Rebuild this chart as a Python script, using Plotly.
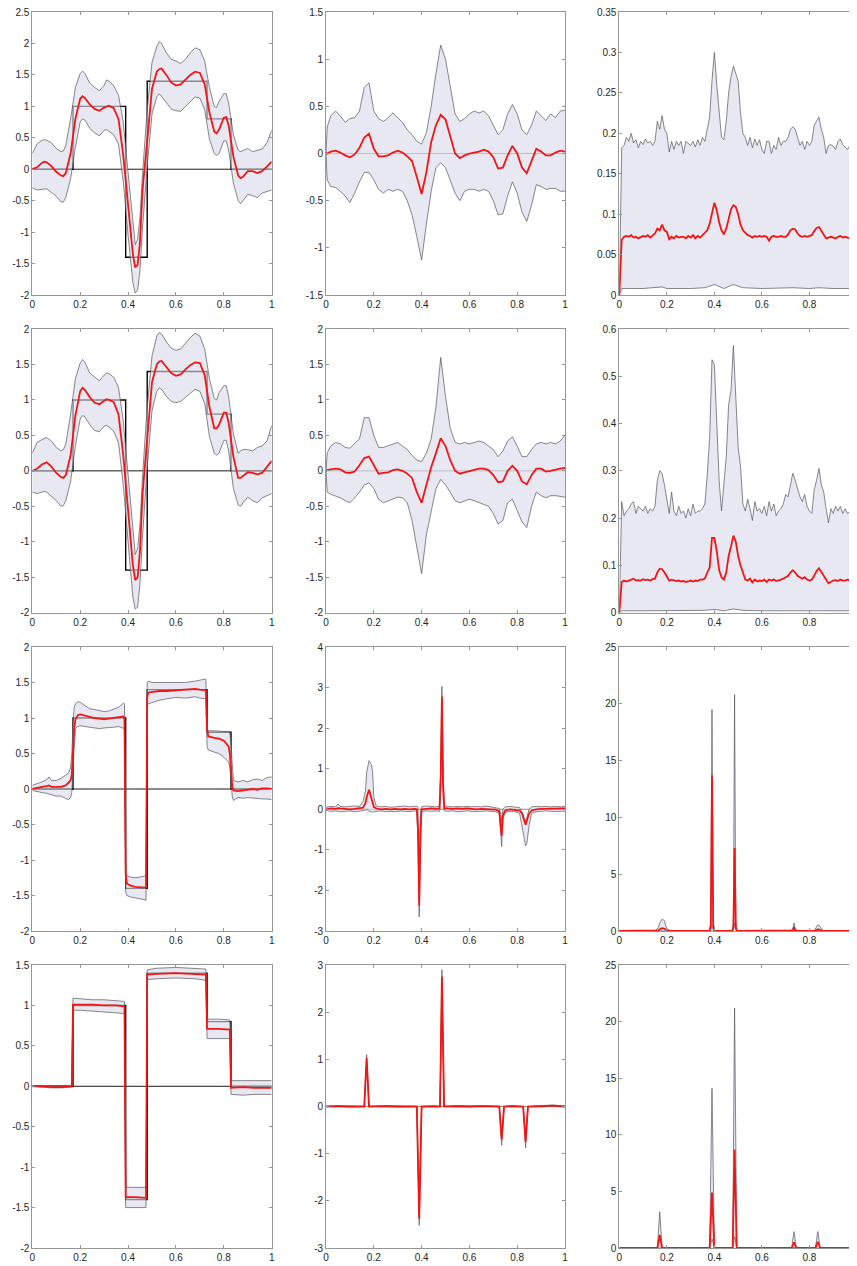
import plotly.graph_objects as go

# ---------------- common data ----------------
step_x = [0, 0.17, 0.17, 0.39, 0.39, 0.48, 0.48, 0.73, 0.73, 0.83, 0.83, 1.0]
step_y = [0, 0, 1, 1, -1.4, -1.4, 1.4, 1.4, 0.8, 0.8, 0, 0]
zero_x = [0, 1]
zero_y = [0, 0]

# ---------- column 1, rows 1-2 (smooth estimate) ----------
x_c1 = [0, 0.02, 0.04, 0.05, 0.06, 0.08, 0.10, 0.12, 0.13, 0.14,
        0.16, 0.18, 0.20, 0.21, 0.22, 0.24, 0.26, 0.28, 0.30, 0.31,
        0.32, 0.34, 0.36, 0.38, 0.40, 0.42, 0.43, 0.44, 0.45, 0.46,
        0.48, 0.50, 0.52, 0.53, 0.54, 0.56, 0.58, 0.60, 0.62, 0.64,
        0.66, 0.68, 0.70, 0.72, 0.74, 0.76, 0.77, 0.78, 0.80, 0.81,
        0.82, 0.84, 0.86, 0.87, 0.88, 0.90, 0.92, 0.94, 0.96, 0.98, 1.00]
r1c1_mean = [0.0, 0.03, 0.1, 0.12, 0.11, 0.05, -0.04, -0.1, -0.11, -0.06,
             0.25, 0.8, 1.12, 1.16, 1.13, 1.03, 0.96, 0.93, 0.98, 1.0,
             1.01, 0.97, 0.8, 0.22, -0.55, -1.35, -1.56, -1.52, -1.15, -0.35,
             0.45, 1.28, 1.55, 1.59, 1.6, 1.5, 1.38, 1.33, 1.35, 1.43,
             1.5, 1.55, 1.53, 1.35, 0.9, 0.6, 0.57, 0.63, 0.82, 0.83,
             0.7, 0.2, -0.1, -0.14, -0.12, -0.03, -0.03, -0.06, -0.03, 0.04, 0.12]
r1c1_hi = [0.25, 0.4, 0.46, 0.47, 0.46, 0.42, 0.33, 0.28, 0.29, 0.38,
           0.8, 1.3, 1.52, 1.56, 1.52, 1.37, 1.3, 1.25, 1.33, 1.42,
           1.4, 1.33, 1.18, 0.75, -0.05, -0.9, -1.2, -1.12, -0.75, -0.1,
           0.95, 1.7, 1.95, 2.03, 2.0, 1.85, 1.75, 1.72, 1.68, 1.75,
           1.85, 1.93, 1.9, 1.72, 1.3, 1.0, 0.98, 1.08, 1.2, 1.2,
           1.05, 0.55, 0.3, 0.28, 0.3, 0.33, 0.28, 0.3, 0.32, 0.42, 0.62]
r1c1_lo = [-0.3, -0.33, -0.32, -0.31, -0.31, -0.37, -0.43, -0.52, -0.52, -0.45,
           -0.15, 0.35, 0.75, 0.8, 0.78, 0.65, 0.58, 0.53, 0.62, 0.63,
           0.6, 0.55, 0.4, -0.2, -1.05, -1.8, -1.97, -1.92, -1.6, -0.95,
           0.05, 0.88, 1.15, 1.2, 1.16, 1.05, 0.96, 0.93, 0.92, 1.0,
           1.08, 1.15, 1.13, 0.95, 0.48, 0.25, 0.22, 0.25, 0.45, 0.45,
           0.3, -0.22, -0.5, -0.55, -0.5, -0.4, -0.42, -0.45, -0.38, -0.35, -0.33]

r2c1_mean = [0.0, 0.03, 0.09, 0.11, 0.12, 0.06, -0.03, -0.09, -0.1, -0.06,
             0.22, 0.78, 1.12, 1.17, 1.14, 1.04, 0.96, 0.94, 0.99, 1.01,
             1.0, 0.97, 0.8, 0.22, -0.55, -1.33, -1.54, -1.5, -1.12, -0.35,
             0.45, 1.25, 1.5, 1.54, 1.55, 1.47, 1.38, 1.34, 1.36, 1.43,
             1.49, 1.53, 1.52, 1.35, 0.9, 0.6, 0.6, 0.65, 0.82, 0.82,
             0.68, 0.2, -0.1, -0.1, -0.07, -0.02, -0.03, -0.05, -0.03, 0.05, 0.14]
r2c1_hi = [0.25, 0.4, 0.44, 0.46, 0.47, 0.42, 0.33, 0.28, 0.3, 0.38,
           0.8, 1.3, 1.52, 1.57, 1.53, 1.38, 1.32, 1.27, 1.35, 1.38,
           1.37, 1.32, 1.18, 0.7, -0.05, -0.88, -1.18, -1.1, -0.75, -0.1,
           0.9, 1.62, 1.9, 1.95, 1.93, 1.82, 1.73, 1.7, 1.72, 1.8,
           1.88, 1.94, 1.9, 1.72, 1.3, 1.02, 1.0, 1.1, 1.2, 1.2,
           1.05, 0.52, 0.25, 0.28, 0.3, 0.3, 0.28, 0.33, 0.35, 0.42, 0.64]
r2c1_lo = [-0.3, -0.32, -0.3, -0.29, -0.3, -0.36, -0.42, -0.5, -0.49, -0.42,
           -0.15, 0.35, 0.73, 0.78, 0.76, 0.65, 0.57, 0.55, 0.63, 0.64,
           0.62, 0.56, 0.4, -0.2, -1.05, -1.78, -1.95, -1.92, -1.58, -0.95,
           0.05, 0.85, 1.12, 1.17, 1.15, 1.05, 0.98, 0.96, 0.98, 1.04,
           1.1, 1.15, 1.12, 0.95, 0.48, 0.25, 0.22, 0.25, 0.43, 0.43,
           0.28, -0.25, -0.48, -0.5, -0.45, -0.37, -0.42, -0.45, -0.38, -0.35, -0.32]

# ---------- column 2, rows 1-2 ----------
x_c2 = [0, 0.005, 0.02, 0.04, 0.06, 0.08, 0.10, 0.12, 0.14, 0.16,
        0.18, 0.20, 0.22, 0.24, 0.26, 0.28, 0.30, 0.32, 0.34, 0.36,
        0.38, 0.40, 0.42, 0.44, 0.46, 0.48, 0.50, 0.52, 0.54, 0.56,
        0.58, 0.60, 0.62, 0.64, 0.66, 0.68, 0.70, 0.72, 0.74, 0.76,
        0.78, 0.80, 0.82, 0.84, 0.86, 0.88, 0.90, 0.92, 0.94, 0.96, 0.98, 1.00]
r1c2_mean = [0, 0.0, 0.02, 0.03, 0.01, -0.02, -0.04, -0.01, 0.06, 0.17,
             0.21, 0.05, -0.03, -0.03, -0.02, 0.01, 0.03, 0.01, -0.03, -0.08,
             -0.25, -0.43, -0.2, 0.12, 0.3, 0.41, 0.36, 0.18, 0.0, -0.05,
             -0.02, 0.0, 0.01, 0.02, 0.04, 0.02, -0.04, -0.16, -0.15, -0.02,
             0.08, 0.0, -0.15, -0.21, -0.08, 0.05, 0.02, -0.02, -0.02, 0.01, 0.03, 0.02]
r1c2_hi = [0, 0.28, 0.4, 0.45, 0.4, 0.33, 0.37, 0.38, 0.45, 0.7,
           0.75, 0.45, 0.37, 0.34, 0.38, 0.43, 0.38, 0.33, 0.25, 0.2,
           0.13, 0.1, 0.22, 0.5, 0.85, 1.15, 1.0, 0.7, 0.42, 0.34,
           0.37, 0.42, 0.45, 0.43, 0.45, 0.4, 0.3, 0.2, 0.25, 0.42,
           0.52, 0.42, 0.25, 0.2, 0.3, 0.45, 0.4, 0.35, 0.42, 0.38, 0.45, 0.46]
r1c2_lo = [0, -0.28, -0.35, -0.36, -0.4, -0.45, -0.52, -0.42, -0.3, -0.2,
           -0.2, -0.28, -0.38, -0.42, -0.38, -0.4, -0.38, -0.4, -0.5, -0.65,
           -0.88, -1.13, -0.75, -0.4, -0.15, -0.1, -0.15, -0.28, -0.42, -0.5,
           -0.4, -0.38, -0.38, -0.4, -0.38, -0.4, -0.5, -0.65, -0.64, -0.45,
           -0.3, -0.42, -0.62, -0.72, -0.55, -0.33, -0.35, -0.38, -0.37, -0.37, -0.4, -0.4]

r2c2_mean = [0, 0.01, 0.02, 0.03, 0.02, -0.02, -0.03, -0.01, 0.08, 0.18,
             0.2, 0.08, -0.04, -0.03, -0.02, 0.01, 0.02, 0.0, -0.04, -0.1,
             -0.3, -0.45, -0.2, 0.05, 0.25, 0.46, 0.35, 0.15, 0.0, -0.04,
             -0.02, 0.0, 0.01, 0.03, 0.03, 0.01, -0.06, -0.16, -0.15, 0.0,
             0.07, 0.0, -0.15, -0.19, -0.06, 0.03, 0.03, -0.01, 0.0, 0.02, 0.03, 0.04]
r2c2_hi = [0, 0.25, 0.35, 0.4, 0.38, 0.33, 0.32, 0.38, 0.45, 0.75,
           0.75, 0.5, 0.33, 0.33, 0.35, 0.38, 0.4, 0.35, 0.3, 0.22,
           0.15, 0.13, 0.25, 0.45, 0.9, 1.6, 1.05, 0.6, 0.4, 0.38,
           0.4, 0.38, 0.4, 0.42, 0.4, 0.35, 0.3, 0.2, 0.28, 0.42,
           0.48, 0.35, 0.2, 0.2, 0.3, 0.38, 0.4, 0.38, 0.4, 0.38, 0.42, 0.5]
r2c2_lo = [0, -0.3, -0.33, -0.35, -0.38, -0.42, -0.45, -0.38, -0.3, -0.2,
           -0.17, -0.25, -0.4, -0.45, -0.42, -0.4, -0.37, -0.38, -0.45, -0.7,
           -1.1, -1.45, -0.9, -0.55, -0.25, -0.12, -0.2, -0.3, -0.42, -0.45,
           -0.43, -0.4, -0.42, -0.45, -0.48, -0.5, -0.6, -0.75, -0.7, -0.45,
           -0.4, -0.55, -0.72, -0.8, -0.5, -0.3, -0.35, -0.38, -0.35, -0.35, -0.36, -0.37]

# ---------- column 3, rows 1-2 ----------
x_c3 = [round(i * 0.01, 2) for i in range(101)]
r1c3_hi = [0.0,
           0.182, 0.185, 0.195, 0.19, 0.2, 0.188, 0.192, 0.182, 0.19, 0.186,
           0.193, 0.188, 0.19, 0.185, 0.19, 0.215, 0.205, 0.222, 0.205, 0.2,
           0.177, 0.19, 0.18, 0.19, 0.185, 0.19, 0.175, 0.19, 0.188, 0.185,
           0.19, 0.183, 0.192, 0.185, 0.195, 0.19, 0.205, 0.22, 0.265, 0.3,
           0.26, 0.23, 0.195, 0.192, 0.215, 0.25, 0.27, 0.283, 0.275, 0.265,
           0.225, 0.2, 0.195, 0.185, 0.195, 0.182, 0.193, 0.185, 0.192, 0.18,
           0.175, 0.19, 0.19, 0.175, 0.185, 0.18, 0.195, 0.185, 0.19, 0.19,
           0.195, 0.205, 0.208, 0.205, 0.195, 0.185, 0.19, 0.18, 0.19, 0.185,
           0.19, 0.21, 0.215, 0.22, 0.205, 0.195, 0.175, 0.185, 0.186, 0.184,
           0.18, 0.19, 0.193, 0.186, 0.183, 0.18, 0.185, 0.19, 0.185, 0.19]
r1c3_mean = [0.0,
             0.068, 0.072, 0.073, 0.072, 0.074, 0.071, 0.072, 0.07, 0.072, 0.073,
             0.072, 0.074, 0.071, 0.074, 0.076, 0.082, 0.08, 0.087, 0.08, 0.078,
             0.069, 0.072, 0.07, 0.073, 0.071, 0.072, 0.072, 0.07, 0.073, 0.071,
             0.074, 0.07, 0.073, 0.071, 0.074, 0.077, 0.08, 0.088, 0.103, 0.114,
             0.105, 0.09, 0.08, 0.075, 0.082, 0.095, 0.106, 0.111, 0.109, 0.1,
             0.087, 0.08, 0.077, 0.074, 0.073, 0.071, 0.073, 0.072, 0.073, 0.072,
             0.073, 0.072, 0.067, 0.072, 0.073, 0.072, 0.072, 0.073, 0.072, 0.072,
             0.075, 0.08, 0.082, 0.081, 0.076, 0.073, 0.072, 0.073, 0.072, 0.073,
             0.074, 0.079, 0.083, 0.084, 0.079, 0.075, 0.07, 0.071, 0.072, 0.071,
             0.07, 0.072, 0.073, 0.071, 0.072, 0.071, 0.07, 0.072, 0.07, 0.071]
r1c3_lo_x = [0, 0.01, 0.1, 0.17, 0.18, 0.2, 0.3, 0.36, 0.4, 0.44, 0.48, 0.52, 0.6, 0.73, 0.8, 0.84, 0.9, 1.0]
r1c3_lo = [0, 0.008, 0.008, 0.009, 0.01, 0.008, 0.008, 0.009, 0.013, 0.008, 0.013, 0.009, 0.008, 0.009, 0.008, 0.009, 0.008, 0.008]

r2c3_hi = [0.0,
           0.235, 0.205, 0.215, 0.22, 0.23, 0.235, 0.21, 0.225, 0.22, 0.215,
           0.225, 0.21, 0.22, 0.215, 0.225, 0.28, 0.3, 0.295, 0.27, 0.235,
           0.21, 0.255, 0.215, 0.205, 0.225, 0.21, 0.215, 0.2, 0.22, 0.205,
           0.23, 0.21, 0.215, 0.215, 0.22, 0.23, 0.29, 0.37, 0.535, 0.525,
           0.4, 0.28, 0.215, 0.28, 0.33, 0.44, 0.47, 0.565, 0.45, 0.35,
           0.31, 0.23, 0.215, 0.24, 0.22, 0.195, 0.235, 0.215, 0.22, 0.21,
           0.225, 0.205, 0.235, 0.215, 0.23, 0.205, 0.215, 0.22, 0.23, 0.25,
           0.245, 0.27, 0.295, 0.28, 0.26, 0.245, 0.235, 0.25, 0.225, 0.215,
           0.21, 0.26, 0.28, 0.305, 0.27, 0.255, 0.22, 0.19, 0.22, 0.21,
           0.225, 0.215, 0.225, 0.21, 0.22, 0.21, 0.215, 0.21, 0.225, 0.22]
r2c3_mean = [0.0,
             0.065, 0.068, 0.066, 0.068, 0.07, 0.072, 0.068, 0.069, 0.068, 0.071,
             0.069, 0.07, 0.068, 0.071, 0.072, 0.085, 0.093, 0.092, 0.085, 0.075,
             0.068, 0.07, 0.068, 0.067, 0.068, 0.066, 0.067, 0.065, 0.066, 0.068,
             0.066, 0.068, 0.067, 0.07, 0.07, 0.072, 0.085, 0.095, 0.158, 0.158,
             0.13, 0.09, 0.075, 0.07, 0.085, 0.12, 0.14, 0.163, 0.15, 0.12,
             0.1, 0.085, 0.07, 0.068, 0.072, 0.064, 0.07, 0.066, 0.068, 0.067,
             0.07, 0.065, 0.07, 0.068, 0.07, 0.067, 0.068, 0.07, 0.072, 0.075,
             0.078, 0.085, 0.09, 0.085, 0.078, 0.075, 0.072, 0.075, 0.07, 0.068,
             0.07, 0.078, 0.088, 0.094, 0.085, 0.078, 0.07, 0.062, 0.066, 0.068,
             0.069, 0.067, 0.07, 0.068, 0.068, 0.07, 0.068, 0.069, 0.07, 0.072]
r2c3_lo_x = [0, 0.01, 0.1, 0.2, 0.3, 0.36, 0.4, 0.44, 0.48, 0.52, 0.6, 0.8, 1.0]
r2c3_lo = [0, 0.004, 0.004, 0.004, 0.004, 0.005, 0.007, 0.004, 0.008, 0.005, 0.004, 0.004, 0.004]

# ---------- row 3 ----------
x_r3c1 = [0, 0.02, 0.04, 0.06, 0.07, 0.08, 0.10, 0.12, 0.14, 0.15,
          0.16, 0.165, 0.17, 0.175, 0.18, 0.19, 0.20, 0.22, 0.24, 0.26,
          0.28, 0.30, 0.32, 0.34, 0.36, 0.38, 0.385, 0.39, 0.395, 0.41,
          0.43, 0.45, 0.47, 0.475, 0.48, 0.485, 0.50, 0.53, 0.56, 0.6,
          0.64, 0.68, 0.70, 0.725, 0.73, 0.735, 0.76, 0.78, 0.80, 0.82,
          0.825, 0.83, 0.835, 0.84, 0.86, 0.88, 0.90, 0.92, 0.94, 0.96, 0.98, 1.0]
r3c1_mean = [0.0, 0.02, 0.03, 0.04, 0.05, 0.03, 0.03, 0.03, 0.05, 0.08,
             0.12, 0.2, 0.55, 0.85, 0.98, 1.04, 1.05, 1.03, 1.01, 1.0,
             0.99, 0.98, 0.99, 1.0, 1.0, 1.02, 1.0, -1.2, -1.33, -1.36,
             -1.38, -1.39, -1.39, -1.38, 1.3, 1.36, 1.37, 1.38, 1.38, 1.39,
             1.39, 1.41, 1.4, 1.39, 0.85, 0.74, 0.72, 0.71, 0.68, 0.6,
             0.5, 0.3, 0.05, -0.02, -0.03, -0.02, -0.01, 0.0, -0.01, 0.01, 0.01, 0.0]
r3c1_hi = [0.05, 0.07, 0.1, 0.13, 0.17, 0.12, 0.12, 0.15, 0.2, 0.22,
           0.3, 0.5, 0.9, 1.15, 1.2, 1.23, 1.22, 1.18, 1.13, 1.12,
           1.1, 1.09, 1.1, 1.12, 1.15, 1.21, 1.2, -1.2, -1.22, -1.24,
           -1.25, -1.24, -1.22, -1.22, 1.5, 1.52, 1.5, 1.5, 1.49, 1.5,
           1.5, 1.52, 1.53, 1.55, 0.85, 0.82, 0.82, 0.81, 0.81, 0.81,
           0.8, 0.6, 0.3, 0.12, 0.1, 0.12, 0.1, 0.13, 0.14, 0.12, 0.16, 0.17]
r3c1_lo = [-0.02, -0.04, -0.05, -0.06, -0.07, -0.08, -0.1, -0.1, -0.13, -0.15,
           -0.12, -0.05, 0.3, 0.7, 0.85, 0.88, 0.89, 0.88, 0.87, 0.86,
           0.85, 0.86, 0.86, 0.87, 0.88, 0.86, 0.85, -1.45, -1.5, -1.52,
           -1.53, -1.55, -1.56, -1.57, 1.18, 1.2, 1.22, 1.25, 1.27, 1.29,
           1.28, 1.3, 1.28, 1.27, 0.6, 0.55, 0.52, 0.5, 0.45, 0.38,
           0.3, 0.15, -0.1, -0.16, -0.12, -0.13, -0.12, -0.13, -0.13, -0.14, -0.14, -0.15]

x_r3c2 = [0, 0.02, 0.04, 0.05, 0.06, 0.08, 0.10, 0.12, 0.14, 0.155,
          0.165, 0.17, 0.18, 0.19, 0.195, 0.2, 0.21, 0.23, 0.25, 0.27,
          0.29, 0.31, 0.33, 0.35, 0.37, 0.38, 0.385, 0.39, 0.395, 0.40,
          0.42, 0.44, 0.46, 0.475, 0.48, 0.485, 0.49, 0.495, 0.51, 0.53,
          0.55, 0.57, 0.59, 0.61, 0.63, 0.65, 0.67, 0.69, 0.71, 0.725,
          0.73, 0.735, 0.74, 0.75, 0.77, 0.79, 0.81, 0.82, 0.83, 0.835,
          0.84, 0.85, 0.86, 0.88, 0.90, 0.92, 0.94, 0.96, 0.98, 1.0]
r3c2_mean = [0.0, 0.02, 0.01, 0.03, 0.02, 0.01, 0.0, 0.01, 0.02, 0.04,
             0.15, 0.3, 0.48, 0.25, 0.12, 0.06, 0.02, 0.0, 0.01, 0.0,
             0.01, 0.0, 0.01, 0.0, 0.01, 0.0, -0.5, -2.38, -0.6, 0.0,
             0.01, 0.02, 0.01, 0.02, 0.8, 2.78, 0.6, 0.03, 0.02, 0.01,
             0.02, 0.01, 0.02, 0.01, 0.0, 0.01, 0.0, 0.0, -0.01, -0.05,
             -0.3, -0.65, -0.15, -0.03, 0.0, -0.01, -0.03, -0.1, -0.3, -0.38,
             -0.28, -0.1, -0.03, 0.0, 0.01, 0.01, 0.02, 0.01, 0.02, 0.02]
r3c2_hi = [0.05, 0.07, 0.06, 0.13, 0.07, 0.06, 0.07, 0.08, 0.07, 0.2,
           0.45, 0.9, 1.2, 1.1, 0.92, 0.3, 0.08, 0.06, 0.07, 0.05,
           0.06, 0.07, 0.08, 0.06, 0.07, 0.08, 0.05, -2.2, -0.1, 0.06,
           0.08, 0.07, 0.06, 0.08, 1.0, 3.03, 0.8, 0.08, 0.07, 0.06,
           0.07, 0.06, 0.07, 0.06, 0.07, 0.06, 0.08, 0.06, 0.05, 0.02,
           -0.1, -0.3, 0.0, 0.06, 0.07, 0.05, 0.04, -0.05, -0.2, -0.3,
           -0.2, 0.0, 0.06, 0.07, 0.06, 0.07, 0.06, 0.07, 0.06, 0.07]
r3c2_lo = [-0.03, -0.05, -0.04, -0.05, -0.06, -0.05, -0.04, -0.06, -0.05, -0.03,
           -0.02, 0.0, -0.05, -0.06, -0.07, -0.06, -0.05, -0.04, -0.06, -0.05,
           -0.06, -0.04, -0.05, -0.06, -0.04, -0.05, -0.8, -2.65, -0.9, -0.05,
           -0.04, -0.05, -0.04, -0.05, 0.5, 2.2, 0.3, -0.04, -0.05, -0.04,
           -0.06, -0.05, -0.04, -0.05, -0.06, -0.05, -0.04, -0.05, -0.06, -0.1,
           -0.5, -0.92, -0.25, -0.08, -0.05, -0.06, -0.1, -0.42, -0.7, -0.9,
           -0.85, -0.4, -0.1, -0.06, -0.05, -0.04, -0.05, -0.06, -0.05, -0.05]

x_r3c3 = [0, 0.15, 0.165, 0.17, 0.18, 0.19, 0.195, 0.2, 0.215, 0.37,
          0.38, 0.385, 0.39, 0.395, 0.40, 0.41, 0.47, 0.475, 0.48, 0.485,
          0.49, 0.495, 0.5, 0.72, 0.73, 0.735, 0.74, 0.75, 0.82, 0.83,
          0.835, 0.84, 0.85, 0.86, 1.0]
r3c3_mean = [0, 0.0, 0.05, 0.15, 0.25, 0.2, 0.1, 0.05, 0.0, 0.0,
             0.0, 0.5, 13.7, 0.5, 0.0, 0.0, 0.0, 0.0, 0.3, 7.3,
             0.3, 0.0, 0.0, 0.0, 0.05, 0.35, 0.05, 0.0, 0.0, 0.08,
             0.15, 0.12, 0.03, 0.0, 0.0]
r3c3_hi = [0, 0.02, 0.3, 0.7, 1.05, 0.9, 0.5, 0.2, 0.02, 0.02,
           0.02, 0.8, 19.5, 0.8, 0.02, 0.02, 0.02, 0.02, 0.8, 20.8,
           0.8, 0.02, 0.02, 0.02, 0.2, 0.7, 0.2, 0.02, 0.02, 0.3,
           0.55, 0.5, 0.2, 0.02, 0.02]
r3c3_lo = [0, 0, 0, 0, 0, 0, 0, 0, 0, 0,
           0, 0.1, 0.5, 0.1, 0, 0, 0, 0, 0.1, 0.7,
           0.1, 0, 0, 0, 0, 0.05, 0, 0, 0, 0,
           0.02, 0, 0, 0, 0]

# ---------- row 4 ----------
x_r4c1 = [0, 0.04, 0.08, 0.12, 0.165, 0.17, 0.2, 0.25, 0.3, 0.35,
          0.385, 0.39, 0.43, 0.475, 0.48, 0.52, 0.6, 0.68, 0.725, 0.73,
          0.78, 0.825, 0.83, 0.88, 0.93, 1.0]
r4c1_mean = [0.0, 0.0, -0.01, -0.01, 0.0, 1.01, 1.01, 1.01, 1.0, 1.0,
             0.99, -1.37, -1.37, -1.38, 1.38, 1.39, 1.4, 1.39, 1.38, 0.71,
             0.71, 0.7, -0.02, -0.01, -0.02, -0.02]
r4c1_hi = [0.0, 0.01, 0.0, 0.0, 0.0, 1.09, 1.08, 1.07, 1.07, 1.06,
           1.05, -1.25, -1.25, -1.25, 1.44, 1.46, 1.47, 1.46, 1.45, 0.83,
           0.83, 0.82, 0.07, 0.07, 0.07, 0.07]
r4c1_lo = [0.0, -0.01, -0.02, -0.02, -0.01, 0.94, 0.94, 0.93, 0.92, 0.91,
           0.9, -1.5, -1.5, -1.5, 1.32, 1.33, 1.34, 1.33, 1.31, 0.59,
           0.59, 0.59, -0.1, -0.11, -0.1, -0.1]

x_r4c2 = [0, 0.05, 0.1, 0.16, 0.17, 0.18, 0.25, 0.3, 0.38, 0.39,
          0.4, 0.45, 0.477, 0.485, 0.494, 0.55, 0.6, 0.65, 0.725, 0.735,
          0.745, 0.78, 0.825, 0.835, 0.845, 0.9, 0.95, 1.0]
r4c2_mean = [0, 0.01, 0.0, 0.0, 1.03, 0.0, 0.01, 0.0, 0.0, -2.38,
             0.0, 0.01, 0.0, 2.75, 0.0, 0.01, 0.0, 0.01, 0.0, -0.7,
             0.0, 0.01, 0.0, -0.75, 0.0, 0.01, 0.02, 0.0]
r4c2_hi = [0, 0.02, 0.01, 0.0, 1.1, 0.0, 0.02, 0.01, 0.0, -2.3,
           0.0, 0.02, 0.0, 2.9, 0.0, 0.02, 0.01, 0.02, 0.0, -0.65,
           0.0, 0.02, 0.0, -0.7, 0.0, 0.02, 0.03, 0.01]
r4c2_lo = [0, -0.01, -0.01, 0.0, 0.95, 0.0, -0.01, -0.01, 0.0, -2.52,
           0.0, -0.01, 0.0, 2.6, 0.0, -0.01, -0.01, 0.0, 0.0, -0.82,
           0.0, -0.01, 0.0, -0.88, 0.0, -0.01, 0.0, -0.01]

x_r4c3 = [0, 0.16, 0.17, 0.18, 0.38, 0.39, 0.4, 0.477, 0.485, 0.494,
          0.725, 0.735, 0.745, 0.825, 0.835, 0.845, 1.0]
r4c3_mean = [0, 0, 1.15, 0, 0, 4.9, 0, 0, 8.7, 0, 0, 0.5, 0, 0, 0.55, 0, 0]
r4c3_hi = [0, 0, 3.2, 0, 0, 14.1, 0, 0, 21.2, 0, 0, 1.45, 0, 0, 1.45, 0, 0]
r4c3_lo = [0, 0, 0.1, 0, 0, 0.8, 0, 0, 1.0, 0, 0, 0.05, 0, 0, 0.05, 0, 0]

# ---------- axes ticks ----------
x_ticks = [0, 0.2, 0.4, 0.6, 0.8, 1.0]
x_ticks_c3 = [0, 0.2, 0.4, 0.6, 0.8]
yt_r1c1 = [-2, -1.5, -1, -0.5, 0, 0.5, 1, 1.5, 2, 2.5]
yt_r1c2 = [-1.5, -1, -0.5, 0, 0.5, 1, 1.5]
yt_r1c3 = [0, 0.05, 0.1, 0.15, 0.2, 0.25, 0.3, 0.35]
yt_r2c1 = [-2, -1.5, -1, -0.5, 0, 0.5, 1, 1.5, 2]
yt_r2c2 = [-2, -1.5, -1, -0.5, 0, 0.5, 1, 1.5, 2]
yt_r2c3 = [0, 0.1, 0.2, 0.3, 0.4, 0.5, 0.6]
yt_r3c1 = [-2, -1.5, -1, -0.5, 0, 0.5, 1, 1.5, 2]
yt_r3c2 = [-3, -2, -1, 0, 1, 2, 3, 4]
yt_r3c3 = [0, 5, 10, 15, 20, 25]
yt_r4c1 = [-2, -1.5, -1, -0.5, 0, 0.5, 1, 1.5]
yt_r4c2 = [-3, -2, -1, 0, 1, 2, 3]
yt_r4c3 = [0, 5, 10, 15, 20, 25]

# ---------------- figure ----------------
# the page body adds an 8 px offset; the figure is sized/positioned to compensate
OFF = 8
W, H = 857 - OFF, 1266 - OFF
col_px = [(32.3, 271.7), (326.0, 565.0), (619.3, 857.0)]
row_px = [(12.0, 295.0), (329.0, 612.7), (647.0, 931.0), (965.0, 1248.0)]

panels = [
    (0, 0, 'sig', x_c1, r1c1_mean, x_c1, r1c1_hi, x_c1, r1c1_lo, yt_r1c1),
    (0, 1, 'inc', x_c2, r1c2_mean, x_c2, r1c2_hi, x_c2, r1c2_lo, yt_r1c2),
    (0, 2, 'var', x_c3, r1c3_mean, x_c3, r1c3_hi, r1c3_lo_x, r1c3_lo, yt_r1c3),
    (1, 0, 'sig', x_c1, r2c1_mean, x_c1, r2c1_hi, x_c1, r2c1_lo, yt_r2c1),
    (1, 1, 'inc', x_c2, r2c2_mean, x_c2, r2c2_hi, x_c2, r2c2_lo, yt_r2c2),
    (1, 2, 'var', x_c3, r2c3_mean, x_c3, r2c3_hi, r2c3_lo_x, r2c3_lo, yt_r2c3),
    (2, 0, 'sig', x_r3c1, r3c1_mean, x_r3c1, r3c1_hi, x_r3c1, r3c1_lo, yt_r3c1),
    (2, 1, 'inc', x_r3c2, r3c2_mean, x_r3c2, r3c2_hi, x_r3c2, r3c2_lo, yt_r3c2),
    (2, 2, 'var', x_r3c3, r3c3_mean, x_r3c3, r3c3_hi, x_r3c3, r3c3_lo, yt_r3c3),
    (3, 0, 'sig', x_r4c1, r4c1_mean, x_r4c1, r4c1_hi, x_r4c1, r4c1_lo, yt_r4c1),
    (3, 1, 'inc', x_r4c2, r4c2_mean, x_r4c2, r4c2_hi, x_r4c2, r4c2_lo, yt_r4c2),
    (3, 2, 'var', x_r4c3, r4c3_mean, x_r4c3, r4c3_hi, x_r4c3, r4c3_lo, yt_r4c3),
]

FILL = 'rgba(218,218,234,0.62)'
BAND = 'rgb(85,85,95)'
RED = 'rgb(245,20,20)'
FRAME = 'rgb(150,150,150)'
TXT = '#262626'
FONT = 'Liberation Sans, Arial, Helvetica, sans-serif'


def fmt(v):
    return f"{v:g}"


fig = go.Figure()
layout = dict(width=W, height=H, margin=dict(l=0, r=0, t=0, b=0),
              paper_bgcolor='white', plot_bgcolor='white', showlegend=False,
              font=dict(family=FONT, size=10, color=TXT), template='none')

for i, (r, c, kind, xm, ym, xh, yh, xl, yl, yt) in enumerate(panels):
    assert len(xm) == len(ym) and len(xh) == len(yh) and len(xl) == len(yl), i
    n = i + 1
    xa = 'x' if n == 1 else f'x{n}'
    ya = 'y' if n == 1 else f'y{n}'
    x0, x1 = (p - OFF for p in col_px[c])
    y0, y1 = (p - OFF for p in row_px[r])
    x1 = min(x1, W)
    xt = x_ticks_c3 if c == 2 else x_ticks
    common = dict(ticks='inside', ticklen=3, tickcolor=FRAME, tickwidth=0.8,
                  showline=True, linecolor=FRAME, linewidth=0.8, mirror='allticks',
                  showgrid=False, zeroline=False, automargin=False,
                  ticklabeloverflow='allow',
                  tickfont=dict(family=FONT, size=10, color=TXT))
    layout['xaxis' if n == 1 else f'xaxis{n}'] = dict(
        domain=[x0 / W, x1 / W], range=[0, 1], anchor=ya,
        tickvals=xt, ticktext=[fmt(v) for v in xt], **common)
    layout['yaxis' if n == 1 else f'yaxis{n}'] = dict(
        domain=[1 - y1 / H, 1 - y0 / H], range=[yt[0], yt[-1]], anchor=xa,
        tickvals=yt, ticktext=[fmt(v) for v in yt], **common)

    if kind == 'sig':
        fig.add_trace(go.Scatter(x=zero_x, y=zero_y, mode='lines', xaxis=xa, yaxis=ya,
                                 line=dict(color='black', width=0.9), hoverinfo='skip'))
        fig.add_trace(go.Scatter(x=step_x, y=step_y, mode='lines', xaxis=xa, yaxis=ya,
                                 line=dict(color='black', width=1.4), hoverinfo='skip'))
    elif kind == 'inc':
        fig.add_trace(go.Scatter(x=zero_x, y=zero_y, mode='lines', xaxis=xa, yaxis=ya,
                                 line=dict(color='rgb(60,60,60)', width=0.6), hoverinfo='skip'))

    fig.add_trace(go.Scatter(x=list(xh) + list(xl)[::-1], y=list(yh) + list(yl)[::-1],
                             mode='lines', fill='toself', fillcolor=FILL,
                             line=dict(width=0, color='rgba(0,0,0,0)'),
                             xaxis=xa, yaxis=ya, hoverinfo='skip'))
    fig.add_trace(go.Scatter(x=xl, y=yl, mode='lines', xaxis=xa, yaxis=ya,
                             line=dict(color=BAND, width=0.7)))
    fig.add_trace(go.Scatter(x=xh, y=yh, mode='lines', xaxis=xa, yaxis=ya,
                             line=dict(color=BAND, width=0.7)))
    fig.add_trace(go.Scatter(x=xm, y=ym, mode='lines', xaxis=xa, yaxis=ya,
                             line=dict(color=RED, width=1.8)))

fig.update_layout(**layout)
fig.write_html("out.html")
